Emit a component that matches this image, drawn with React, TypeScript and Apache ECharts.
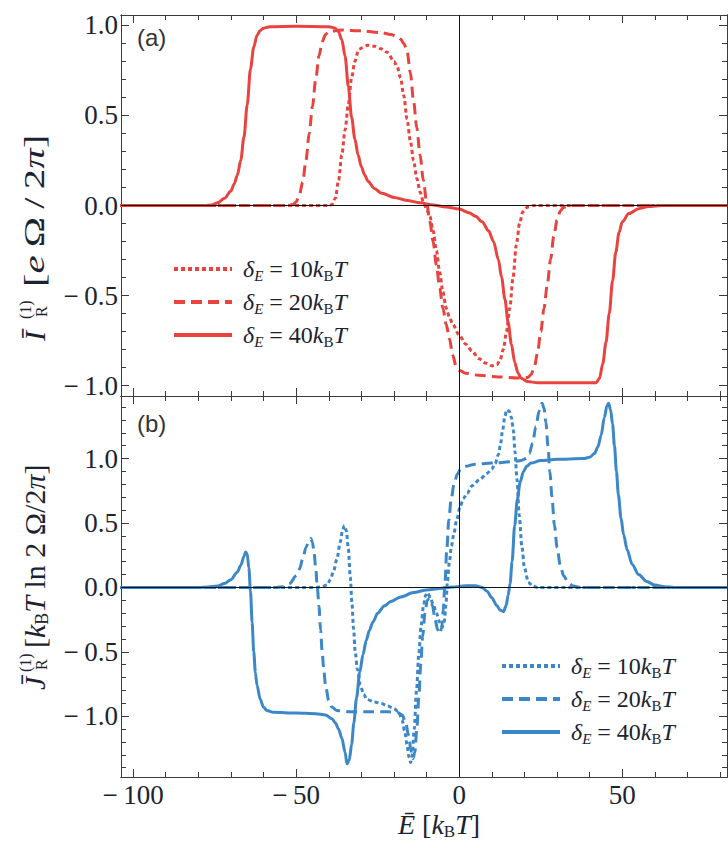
import React, { useEffect, useRef } from "react";
import * as echarts from "echarts";

// ---------- axis ranges & ticks ----------
const X_MIN = -103.7;
const X_MAX = 82.1;
const YA_MIN = -1.058;
const YA_MAX = 1.058;
const YB_MIN = -1.472;
const YB_MAX = 1.486;

const xMajorTicks = [-100, -50, 0, 50];
const xMinorTicks = [-90, -80, -70, -60, -40, -30, -20, -10, 10, 20, 30, 40, 60, 70, 80];
const yMajorTicks = [-1, -0.5, 0, 0.5, 1];
const yaMinorTicks = [-0.9, -0.8, -0.7, -0.6, -0.4, -0.3, -0.2, -0.1, 0.1, 0.2, 0.3, 0.4, 0.6, 0.7, 0.8, 0.9];
const ybMinorTicks = [-1.4, -1.3, -1.2, -1.1, -0.9, -0.8, -0.7, -0.6, -0.4, -0.3, -0.2, -0.1, 0.1, 0.2, 0.3, 0.4, 0.6, 0.7, 0.8, 0.9, 1.1, 1.2, 1.3, 1.4];

// ---------- panel (a): I_R ----------
const iDelta10: [number, number][] = [
  [-104, 0], [-40, 0], [-39, 0.005], [-38, 0.04], [-37, 0.14], [-36, 0.28], [-35, 0.42], [-34, 0.56], [-33, 0.71],
  [-32, 0.8], [-31, 0.855], [-30, 0.875], [-28, 0.89], [-26, 0.885], [-24, 0.87], [-22, 0.85], [-20, 0.8],
  [-19, 0.77], [-18, 0.71], [-17, 0.61], [-16, 0.48], [-15, 0.36], [-14, 0.25], [-13, 0.15], [-12, 0.075],
  [-11, 0.02], [-10, -0.02], [-9, -0.06], [-8, -0.14], [-7, -0.25], [-6, -0.37], [-5, -0.48], [-4, -0.57],
  [-3, -0.62], [-2, -0.66], [0, -0.72], [2, -0.77], [4, -0.81], [6, -0.85], [8, -0.875], [10, -0.89],
  [11.5, -0.885], [12.5, -0.86], [13.5, -0.8], [14.5, -0.7], [15.5, -0.57], [16.5, -0.4], [17.5, -0.22],
  [18.5, -0.1], [19.5, -0.035], [21, -0.008], [23, 0], [82, 0],
];
const iDelta20: [number, number][] = [
  [-104, 0], [-53, 0], [-51, 0.005], [-50, 0.02], [-49, 0.06], [-48, 0.13], [-47, 0.25], [-46, 0.4], [-45, 0.55],
  [-44, 0.7], [-43, 0.83], [-42, 0.91], [-41, 0.95], [-40, 0.965], [-36, 0.975], [-30, 0.97], [-24, 0.96],
  [-21, 0.95], [-19, 0.94], [-18, 0.925], [-17, 0.9], [-16, 0.86], [-15, 0.74], [-14, 0.58], [-13, 0.43],
  [-12, 0.28], [-11, 0.14], [-10, 0.02], [-9, -0.09], [-8, -0.2], [-7, -0.33], [-6, -0.46], [-5, -0.57],
  [-4, -0.66], [-3, -0.74], [-2, -0.83], [-1, -0.89], [0, -0.915], [2, -0.932], [6, -0.943], [12, -0.952],
  [18, -0.958], [21, -0.955], [22, -0.94], [23, -0.9], [24, -0.82], [25, -0.7], [26, -0.57], [27, -0.44],
  [28, -0.3], [29, -0.17], [30, -0.08], [31, -0.03], [32, -0.01], [34, 0], [82, 0],
];
const iDelta40: [number, number][] = [
  [-104, 0], [-78, 0], [-76, 0.003], [-74, 0.015], [-72, 0.04], [-70, 0.08], [-69, 0.12], [-68, 0.17],
  [-67, 0.25], [-66, 0.38], [-65, 0.56], [-64, 0.76], [-63, 0.88], [-62, 0.945], [-61, 0.972], [-60, 0.985],
  [-58, 0.993], [-50, 0.995], [-40, 0.993], [-38, 0.985], [-37, 0.965], [-36, 0.92], [-35, 0.83], [-34, 0.66],
  [-33, 0.49], [-32, 0.37], [-31, 0.28], [-30, 0.215], [-29, 0.17], [-28, 0.135], [-26, 0.095], [-24, 0.07],
  [-20, 0.045], [-16, 0.028], [-12, 0.015], [-8, 0.003], [-4, -0.008], [0, -0.02], [3, -0.04], [5, -0.06],
  [7, -0.09], [9, -0.14], [10.5, -0.2], [12, -0.3], [13, -0.4], [14, -0.52], [15, -0.65], [16, -0.77],
  [17, -0.87], [18, -0.93], [19, -0.96], [21, -0.978], [24, -0.984], [42, -0.984], [43, -0.96], [44, -0.88],
  [45, -0.76], [46, -0.6], [47, -0.42], [48, -0.26], [49, -0.15], [50, -0.09], [52, -0.045], [55, -0.018],
  [58, -0.006], [62, 0], [82, 0],
];

// ---------- panel (b): J_R ----------
const jDelta10: [number, number][] = [
  [-104, 0], [-44, 0], [-42, 0.005], [-40.5, 0.02], [-39.5, 0.06], [-38.5, 0.13], [-37.5, 0.22], [-36.5, 0.35],
  [-35.8, 0.44], [-35.2, 0.48], [-34.6, 0.44], [-34, 0.3], [-33.4, 0.08], [-32.9, -0.12], [-32.4, -0.32],
  [-31.9, -0.5], [-31.2, -0.64], [-30.3, -0.76], [-29.3, -0.83], [-28.3, -0.87], [-26, -0.89], [-24, -0.9],
  [-22, -0.92], [-20, -0.94], [-18.5, -0.97], [-17.5, -1.03], [-16.7, -1.12], [-16, -1.22], [-15.4, -1.32],
  [-14.9, -1.36], [-14.4, -1.3], [-13.8, -1.1], [-13.1, -0.8], [-12.4, -0.52], [-11.7, -0.3], [-11, -0.15],
  [-10.3, -0.06], [-9.8, -0.04], [-9, -0.07], [-8, -0.13], [-7, -0.2], [-6, -0.27], [-5.2, -0.31],
  [-4.6, -0.27], [-4.1, -0.14], [-3.6, 0.05], [-3, 0.2], [-2.4, 0.32], [-1.7, 0.41], [-0.8, 0.52], [0.3, 0.63],
  [1.3, 0.69], [2.4, 0.73], [4, 0.79], [6.4, 0.84], [8.5, 0.885], [10, 0.92], [11, 0.96], [12, 1.03],
  [12.6, 1.1], [13.3, 1.22], [14, 1.33], [14.6, 1.38], [15.3, 1.37], [16, 1.32], [16.6, 1.22], [17.1, 1.05],
  [17.7, 0.84], [18.4, 0.56], [19.2, 0.32], [20, 0.15], [21.2, 0.04], [22.5, 0.01], [24, 0], [82, 0],
];
const jDelta20: [number, number][] = [
  [-104, 0], [-56, 0], [-54, 0.005], [-52, 0.03], [-50, 0.09], [-49, 0.14], [-48, 0.22], [-47, 0.31],
  [-46, 0.37], [-45.5, 0.38], [-45, 0.35], [-44.5, 0.27], [-44, 0.15], [-43.5, 0.0], [-43, -0.15],
  [-42.5, -0.33], [-42, -0.51], [-41.5, -0.65], [-41, -0.76], [-40, -0.88], [-39, -0.93], [-37.5, -0.955],
  [-34, -0.965], [-28, -0.965], [-22, -0.965], [-19, -0.97], [-17.5, -0.99], [-16.5, -1.04], [-15.5, -1.15],
  [-14.8, -1.27], [-14.2, -1.33], [-13.6, -1.28], [-13, -1.1], [-12.4, -0.86], [-11.8, -0.6], [-11.2, -0.38],
  [-10.5, -0.2], [-9.8, -0.1], [-9, -0.08], [-8.2, -0.14], [-7.4, -0.25], [-6.6, -0.33], [-6, -0.36],
  [-5.4, -0.32], [-4.9, -0.18], [-4.4, 0.02], [-3.8, 0.3], [-3.2, 0.52], [-2.5, 0.68], [-1.6, 0.8],
  [-0.6, 0.88], [0.5, 0.92], [2, 0.94], [4.5, 0.955], [10, 0.965], [16, 0.975], [19, 0.985], [20.5, 1.0],
  [21.5, 1.04], [22.5, 1.12], [23.5, 1.25], [24.5, 1.37], [25.4, 1.43], [26, 1.39], [26.6, 1.28], [27.2, 1.1],
  [27.8, 0.9], [28.4, 0.71], [29.2, 0.48], [30, 0.31], [31, 0.17], [32, 0.09], [33.5, 0.035], [35, 0.01],
  [37, 0], [82, 0],
];
const jDelta40: [number, number][] = [
  [-104, 0], [-80, 0], [-77, 0.003], [-74, 0.01], [-72, 0.03], [-70, 0.06], [-68, 0.12], [-67, 0.17],
  [-66, 0.24], [-65.5, 0.275], [-65, 0.26], [-64.5, 0.15], [-64, -0.03], [-63.5, -0.27], [-63, -0.5],
  [-62.5, -0.66], [-62, -0.76], [-61, -0.87], [-60, -0.93], [-59, -0.955], [-57, -0.97], [-50, -0.975],
  [-44, -0.98], [-41, -0.99], [-39, -1.02], [-38, -1.05], [-37, -1.1], [-36, -1.17], [-35, -1.28],
  [-34.4, -1.37], [-33.7, -1.34], [-33, -1.22], [-32.3, -1.05], [-31.5, -0.86], [-30.5, -0.66], [-29.5, -0.52],
  [-28.5, -0.41], [-27.5, -0.33], [-26.5, -0.27], [-25, -0.2], [-23, -0.145], [-21, -0.11], [-18, -0.075],
  [-14, -0.04], [-10, -0.02], [-6, -0.008], [-2, 0.004], [2, 0.012], [5, 0.012], [7, 0.0], [8.5, -0.03],
  [10, -0.08], [11.5, -0.14], [12.5, -0.175], [13.6, -0.188], [14.4, -0.14], [15, -0.06], [15.6, 0.03],
  [16.2, 0.2], [17, 0.48], [17.8, 0.68], [18.7, 0.82], [19.7, 0.9], [20.7, 0.94], [22, 0.965], [25, 0.985],
  [30, 0.995], [38, 1.0], [40, 1.01], [41.5, 1.04], [42.5, 1.09], [43.5, 1.18], [44.5, 1.32], [45.3, 1.41],
  [45.8, 1.43], [46.4, 1.38], [47, 1.27], [47.6, 1.1], [48.2, 0.9], [48.8, 0.72], [49.6, 0.54], [50.4, 0.41],
  [51.5, 0.29], [53, 0.18], [55, 0.1], [57.5, 0.045], [60, 0.018], [63, 0.005], [66, 0], [82, 0],
];

const legendText: Record<string, string> = {
  a10: "{i|δ}{si|E}{r| = 10}{i|k}{s|B}{i|T}",
  a20: "{i|δ}{si|E}{r| = 20}{i|k}{s|B}{i|T}",
  a40: "{i|δ}{si|E}{r| = 40}{i|k}{s|B}{i|T}",
  b10: "{i|δ}{si|E}{r| = 10}{i|k}{s|B}{i|T}",
  b20: "{i|δ}{si|E}{r| = 20}{i|k}{s|B}{i|T}",
  b40: "{i|δ}{si|E}{r| = 40}{i|k}{s|B}{i|T}",
};

const RED = "#e8433e";
const BLUE = "#3b87c8";
const TXT = "#1b2330";
const FRAME = "#3a3a3a";
const SERIF = '"Liberation Serif", "Times New Roman", serif';
const DOT: number[] = [4, 3];
const DASH: number[] = [11, 6];

const fmtY = (v: number) => (v < -1e-9 ? "\u2212\u2009" : "") + Math.abs(v).toFixed(1);
const fmtX = (v: number) => (v < -1e-9 ? "\u2212\u2009" : "") + Math.abs(Math.round(v));

function axisBase(gridIndex: number, position: string, min: number, max: number, ticks: number[], len: number) {
  return {
    type: "value",
    gridIndex,
    position,
    min,
    max,
    axisLine: { show: true, onZero: false, lineStyle: { color: FRAME, width: 1 } },
    axisTick: { show: true, inside: true, length: len, customValues: ticks, lineStyle: { color: FRAME, width: 1 } },
    axisLabel: { show: false },
    splitLine: { show: false },
    minorTick: { show: false },
  };
}

export default function App() {
  const ref = useRef<HTMLDivElement>(null);
  useEffect(() => {
    if (!ref.current) return;
    const chart = echarts.init(ref.current, undefined, { renderer: "svg" });

    const xAxes: any[] = [];
    const yAxes: any[] = [];
    [0, 1].forEach((g) => {
      const bMaj: any = axisBase(g, "bottom", X_MIN, X_MAX, xMajorTicks, 8);
      if (g === 1) {
        bMaj.axisLabel = {
          show: true,
          customValues: xMajorTicks,
          formatter: fmtX,
          fontFamily: SERIF,
          fontSize: 27,
          color: TXT,
          margin: 4,
        };
      }
      xAxes.push(bMaj);
      xAxes.push(axisBase(g, "bottom", X_MIN, X_MAX, xMinorTicks, 5));
      xAxes.push(axisBase(g, "top", X_MIN, X_MAX, xMajorTicks, 8));
      xAxes.push(axisBase(g, "top", X_MIN, X_MAX, xMinorTicks, 5));
      const ymin = g === 0 ? YA_MIN : YB_MIN;
      const ymax = g === 0 ? YA_MAX : YB_MAX;
      const minor = g === 0 ? yaMinorTicks : ybMinorTicks;
      const lMaj: any = axisBase(g, "left", ymin, ymax, yMajorTicks, 8);
      lMaj.axisLabel = {
        show: true,
        customValues: yMajorTicks,
        formatter: fmtY,
        fontFamily: SERIF,
        fontSize: 27,
        color: TXT,
        margin: 3,
      };
      yAxes.push(lMaj);
      yAxes.push(axisBase(g, "left", ymin, ymax, minor, 5));
      yAxes.push(axisBase(g, "right", ymin, ymax, yMajorTicks, 8));
      yAxes.push(axisBase(g, "right", ymin, ymax, minor, 5));
    });

    const zeroLines = {
      silent: true,
      symbol: ["none", "none"],
      label: { show: false },
      lineStyle: { color: "#111", width: 1, type: "solid" },
      data: [{ yAxis: 0 }, { xAxis: 0 }],
    };

    const mk = (name: string, data: [number, number][], color: string, dash: any, panel: number, zl: boolean) => ({
      type: "line",
      name,
      data,
      xAxisIndex: panel * 4,
      yAxisIndex: panel * 4,
      showSymbol: false,
      symbol: "none",
      smooth: 0.3,
      smoothMonotone: "x",
      lineStyle: { color, width: 3, type: dash, cap: "butt" },
      itemStyle: { color },
      markLine: zl ? zeroLines : undefined,
    });

    const rich = {
      i: { fontFamily: SERIF, fontStyle: "italic", fontSize: 24, lineHeight: 28, color: TXT },
      r: { fontFamily: SERIF, fontSize: 24, lineHeight: 28, color: TXT },
      s: { fontFamily: SERIF, fontSize: 15, lineHeight: 15, verticalAlign: "bottom", color: TXT },
      si: { fontFamily: SERIF, fontStyle: "italic", fontSize: 15, lineHeight: 15, verticalAlign: "bottom", color: TXT },
    };
    const legendCommon = {
      orient: "vertical",
      padding: 0,
      itemWidth: 58,
      itemHeight: 12,
      itemGap: 7,
      selectedMode: false,
      formatter: (n: string) => legendText[n],
      textStyle: { rich, padding: [0, 0, 0, 6] },
      lineStyle: { width: 4 },
      itemStyle: { color: "rgba(0,0,0,0)", borderWidth: 0, opacity: 0 },
    };

    const option: any = {
      animation: false,
      backgroundColor: "#ffffff",
      grid: [
        { left: 121, top: 15, width: 606, height: 381 },
        { left: 121, top: 396, width: 606, height: 381 },
      ],
      xAxis: xAxes,
      yAxis: yAxes,
      legend: [
        { ...legendCommon, data: ["a10", "a20", "a40"], left: 172, top: 257 },
        { ...legendCommon, data: ["b10", "b20", "b40"], left: 500, top: 654 },
      ],
      series: [
        mk("a10", iDelta10, RED, DOT, 0, true),
        mk("a20", iDelta20, RED, DASH, 0, false),
        mk("a40", iDelta40, RED, "solid", 0, false),
        mk("b10", jDelta10, BLUE, DOT, 1, true),
        mk("b20", jDelta20, BLUE, DASH, 1, false),
        mk("b40", jDelta40, BLUE, "solid", 1, false),
      ],
      graphic: [
        { type: "text", left: 137, top: 25, style: { text: "(a)", fontFamily: '"Liberation Sans", Arial, sans-serif', fontSize: 24, fill: "#333" } },
        { type: "text", left: 137, top: 411, style: { text: "(b)", fontFamily: '"Liberation Sans", Arial, sans-serif', fontSize: 24, fill: "#333" } },
        {
          type: "group",
          x: 34,
          y: 341,
          rotation: Math.PI / 2,
          children: [
            { type: "text", x: 0, y: 0, style: { text: "Ī", fontFamily: SERIF, fontStyle: "italic", fontSize: 30, fill: TXT, verticalAlign: "middle" } },
            { type: "text", x: 22, y: -9, style: { text: "(1)", fontFamily: SERIF, fontSize: 16, fill: TXT, verticalAlign: "middle" } },
            { type: "text", x: 24, y: 7, style: { text: "R", fontFamily: SERIF, fontSize: 16, fill: TXT, verticalAlign: "middle" } },
            {
              type: "text",
              x: 54,
              y: 0,
              scaleX: 1.36,
              style: {
                text: "{r|[}{i|e}{r|\u2009Ω\u2009/\u20092}{i|π}{r|]}",
                fill: TXT,
                verticalAlign: "middle",
                rich: {
                  r: { fontFamily: SERIF, fontSize: 30 },
                  i: { fontFamily: SERIF, fontSize: 30, fontStyle: "italic" },
                },
              },
            },
          ],
        },
        {
          type: "group",
          x: 34,
          y: 690,
          rotation: Math.PI / 2,
          children: [
            { type: "text", x: 0, y: 0, style: { text: "J\u0304", fontFamily: SERIF, fontStyle: "italic", fontSize: 30, fill: TXT, verticalAlign: "middle" } },
            { type: "text", x: 18, y: -9, style: { text: "(1)", fontFamily: SERIF, fontSize: 16, fill: TXT, verticalAlign: "middle" } },
            { type: "text", x: 20, y: 7, style: { text: "R", fontFamily: SERIF, fontSize: 16, fill: TXT, verticalAlign: "middle" } },
            {
              type: "text",
              x: 42,
              y: 0,
              style: {
                text: "{r|[}{i|k}{s|B}{i|T}{r| ln 2 Ω/2}{i|π}{r|]}",
                fill: TXT,
                verticalAlign: "middle",
                rich: {
                  r: { fontFamily: SERIF, fontSize: 30, lineHeight: 34 },
                  i: { fontFamily: SERIF, fontSize: 30, fontStyle: "italic", lineHeight: 34 },
                  s: { fontFamily: SERIF, fontSize: 18, lineHeight: 18, verticalAlign: "bottom" },
                },
              },
            },
          ],
        },
        {
          type: "text",
          left: 398,
          top: 810,
          style: {
            text: "{i|Ē}{r| [}{i|k}{s|B}{i|T}{r|]}",
            fill: TXT,
            rich: {
              r: { fontFamily: SERIF, fontSize: 28, lineHeight: 32 },
              i: { fontFamily: SERIF, fontSize: 28, fontStyle: "italic", lineHeight: 32 },
              s: { fontFamily: SERIF, fontSize: 17, lineHeight: 17, verticalAlign: "bottom" },
            },
          },
        },
      ],
    };
    chart.setOption(option);
    return () => chart.dispose();
  }, []);
  return <div ref={ref} style={{ position: "absolute", left: 0, top: 0, width: 728, height: 848 }} />;
}
